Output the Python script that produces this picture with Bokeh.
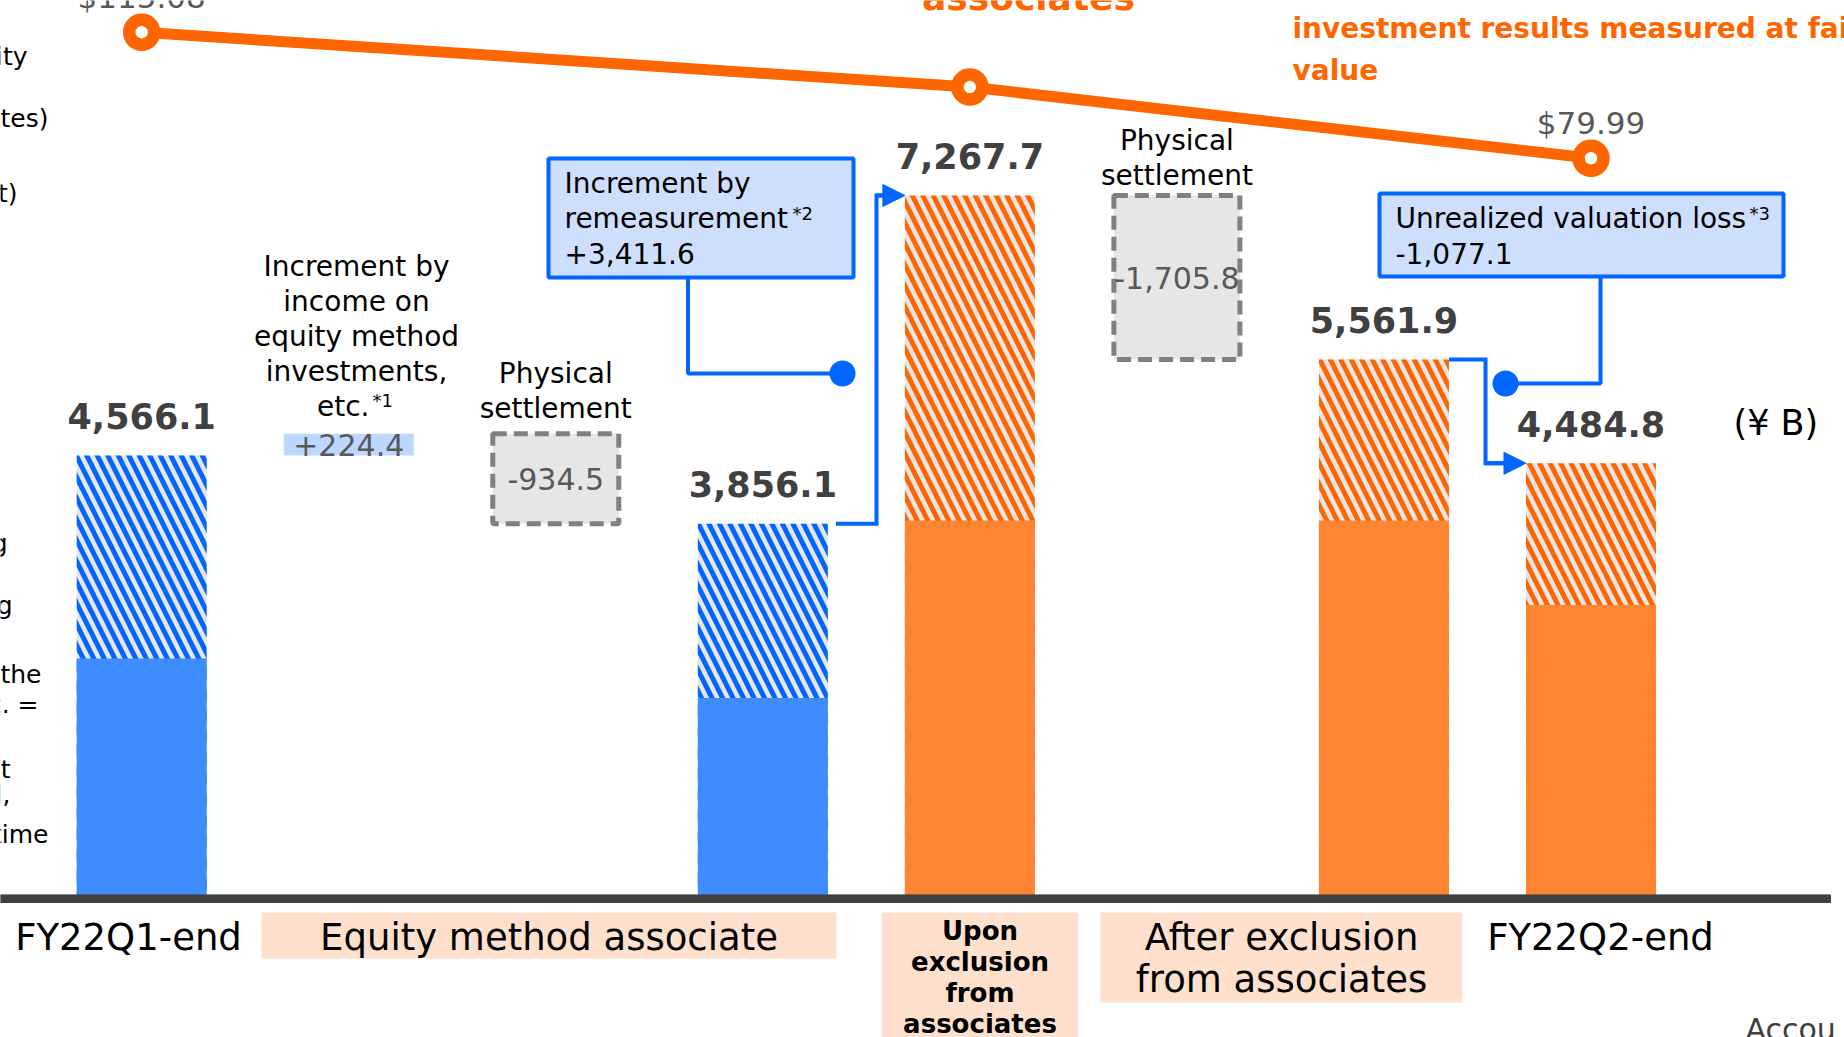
from bokeh.plotting import figure
from bokeh.models import Range1d, ColumnDataSource, Arrow, NormalHead
from bokeh.core.properties import value
from bokeh.embed import file_html
from bokeh.resources import INLINE

# ---------------- data ----------------
total_slots = [0, 3, 4, 6, 7]
total_values = [4566.1, 3856.1, 7267.7, 5561.9, 4484.8]
solid_values = [2456.0, 2047.0, 3890.0, 3890.0, 3012.0]
total_group = ["associate", "associate", "fair", "fair", "fair"]

step_slots = [1, 2, 5]
step_values = [224.4, -934.5, -1705.8]
step_start_from = [0, None, 4]   # slot whose level the step starts from (None = continue)

remeasurement_value = 3411.6
unrealized_loss_value = -1077.1

price_slots = [0, 4, 7]
price_values = [115.08, 99.8, 79.99]
price_labels = ["$115.08", "", "$79.99"]

category_labels = ["FY22Q1-end", "Equity method associate",
                   "Upon\nexclusion\nfrom\nassociates",
                   "After exclusion\nfrom associates", "FY22Q2-end"]

# ---------------- geometry helpers (page px -> data) ----------------
W, H = 1844, 1037
SLOT_PX = 207.04
X0_PX = 141.2
BASE_PX = 894.4
UNIT_PX = 0.09624          # px per ¥B
PRICE_PX = 3.591           # px per $
PRICE_REF_PX = 31.7        # page y of first price point
MID = 0.36                 # cap-centre above baseline, in em


def X(px):
    return (px - X0_PX) / SLOT_PX


def Y(py):
    return (BASE_PX - py) / UNIT_PX


def P(py):
    return price_values[0] + (PRICE_REF_PX - py) / PRICE_PX


PXU = 1 / UNIT_PX
BW = 130 / SLOT_PX

BLUE_SOLID = "#3f8cff"
BLUE_HATCH = "#0066ff"
ORANGE_SOLID = "#ff8533"
ORANGE_HATCH = "#ff6600"
HATCH_BG = "#e6e6e6"
LINE_BLUE = "#0066ff"
DARK = "#404040"
GRAY = "#595959"
PEACH = "#fee0cd"
FONT = value("DejaVu Sans")

p = figure(width=W, height=H, output_backend="svg", toolbar_location=None,
           x_range=Range1d(X(0), X(W)), y_range=Range1d(Y(H), Y(0)),
           min_border=0, x_axis_location=None, y_axis_location=None,
           outline_line_color=None, background_fill_color="white")
p.grid.visible = False
p.extra_y_ranges = {"price": Range1d(P(H), P(0))}


def txt(xpx, base_py, t, size, color="black", align="left", bold=False):
    p.text(x=[X(xpx)], y=[Y(base_py - MID * size)], text=[t], text_font=FONT,
           text_font_size=value(f"{size}px"), text_color=color, text_align=align,
           text_baseline="middle", text_font_style="bold" if bold else "normal")


# ---------------- bars ----------------
src = ColumnDataSource(dict(
    x=total_slots, top=total_values, solid=solid_values,
    hatch=[BLUE_HATCH if g == "associate" else ORANGE_HATCH for g in total_group],
    fill=[BLUE_SOLID if g == "associate" else ORANGE_SOLID for g in total_group],
    label=[f"{v:,.1f}" for v in total_values],
    label_y=[v + (27 + MID * 35) * PXU for v in total_values],
))
p.vbar(x="x", top="top", bottom=0, width=BW, source=src, fill_color=HATCH_BG,
       hatch_pattern="\\", hatch_color="hatch", hatch_weight=5, hatch_scale=21,
       line_color=None)
p.vbar(x="x", top="solid", bottom=0, width=BW, source=src, fill_color="fill",
       line_color=None)
p.text(x="x", y="label_y", text="label", source=src, text_font=FONT,
       text_font_size=value("35px"), text_font_style="bold", text_color=DARK,
       text_align="center", text_baseline="middle")

# ---------------- waterfall steps ----------------
level = total_values[0]
pos_q, neg_q = [], []
for s, v, start in zip(step_slots, step_values, step_start_from):
    if start is not None:
        level = total_values[total_slots.index(start)]
    lo, hi = sorted([level, level + v])
    rec = dict(x=s, lo=lo, hi=hi, mid=(lo + hi) / 2,
               label=(f"+{v:,.1f}" if v > 0 else f"{v:,.1f}"))
    (pos_q if v > 0 else neg_q).append(rec)
    level += v


def cols(recs):
    return {k: [r[k] for r in recs] for k in recs[0]}


pq = ColumnDataSource(cols(pos_q))
nq = ColumnDataSource(cols(neg_q))
p.vbar(x="x", top="hi", bottom="lo", width=BW, source=pq, fill_color="#bdd7ff", line_color=None)
p.text(x="x", y="mid", text="label", source=pq, text_font=FONT, text_font_size=value("30px"),
       text_color=GRAY, text_align="center", text_baseline="middle")
p.vbar(x="x", top="hi", bottom="lo", width=BW - 4 / SLOT_PX, source=nq, fill_color=HATCH_BG,
       line_color="#808080", line_width=5, line_dash="14 7")
p.text(x="x", y="mid", text="label", source=nq, text_font=FONT, text_font_size=value("30px"),
       text_color=GRAY, text_align="center", text_baseline="middle")

# baseline (axis line)
p.quad(left=[X(0)], right=[X(1830)], top=[0], bottom=[Y(902)], color=DARK)

# ---------------- price line ----------------
p.line(x=price_slots, y=price_values, y_range_name="price", line_color=ORANGE_HATCH,
       line_width=11)
p.scatter(x=price_slots, y=price_values, y_range_name="price", marker="circle", size=25,
          fill_color="white", line_color=ORANGE_HATCH, line_width=12.5)
p.text(x=price_slots, y=[v + (24 + MID * 31) / PRICE_PX for v in price_values],
       text=price_labels, y_range_name="price", text_font=FONT,
       text_font_size=value("31px"), text_color=GRAY, text_align="center",
       text_baseline="middle")

# ---------------- arrows between bars ----------------
def elbow_arrow(i_from, i_to, elbow_px, gap_px):
    x_a = total_slots[i_from] + BW / 2 + gap_px / SLOT_PX
    y_a = total_values[i_from]
    x_e = X(elbow_px)
    y_b = total_values[i_to]
    x_b = total_slots[i_to] - BW / 2
    p.line(x=[x_a, x_e, x_e, x_b - 12 / SLOT_PX], y=[y_a, y_a, y_b, y_b],
           line_color=LINE_BLUE, line_width=4, line_join="miter")
    p.add_layout(Arrow(end=NormalHead(size=22, fill_color=LINE_BLUE, line_color=LINE_BLUE),
                       x_start=x_e, y_start=y_b, x_end=x_b, y_end=y_b,
                       line_color=LINE_BLUE, line_width=4))


elbow_arrow(1, 2, 876, 8)
elbow_arrow(3, 4, 1485, 0)

# ---------------- callout boxes ----------------
def callout(l, r, t, b, lines, sup, sup_x, sup_y, conn_x, dot_x, dot_y):
    p.quad(left=[X(l)], right=[X(r)], top=[Y(t)], bottom=[Y(b)], fill_color="#cddffd",
           line_color=LINE_BLUE, line_width=4)
    p.line(x=[X(conn_x), X(conn_x), X(dot_x)], y=[Y(b), Y(dot_y), Y(dot_y)],
           line_color=LINE_BLUE, line_width=4)
    p.scatter(x=[X(dot_x)], y=[Y(dot_y)], size=26, marker="circle", fill_color=LINE_BLUE,
              line_color=None)
    for k, ln in enumerate(lines):
        txt(l + 16, t + 35 + 35 * k, ln, 28)
    txt(sup_x, sup_y, sup, 18)


callout(548, 853, 158, 277,
        ["Increment by", "remeasurement", f"+{remeasurement_value:,.1f}"],
        "*2", 792, 219, 687.5, 842, 373)
callout(1379, 1783, 193, 276,
        ["Unrealized valuation loss", f"{unrealized_loss_value:,.1f}"],
        "*3", 1749, 219, 1600, 1505, 383)

# ---------------- step captions ----------------
for k, ln in enumerate(["Increment by", "income on", "equity method", "investments,"]):
    txt(356, 276 + 35 * k, ln, 28, align="center")
txt(369, 416, "etc.", 28, align="right")
txt(372, 406, "*1", 18)
for s, yb in ((2, 383), (5, 150)):
    xs = X0_PX + s * SLOT_PX
    txt(xs, yb, "Physical", 28, align="center")
    txt(xs, yb + 35, "settlement", 28, align="center")

txt(1733, 435, "(¥ B)", 35)

# ---------------- category labels ----------------
p.quad(left=[X(261), X(881), X(1100)], right=[X(836), X(1078), X(1462)],
       top=[Y(912)] * 3, bottom=[Y(958), Y(1045), Y(1002)], fill_color=PEACH, line_color=None)
txt(128, 950, category_labels[0], 37, align="center")
txt(548.5, 950, category_labels[1], 37, align="center")
for k, ln in enumerate(category_labels[2].split("\n")):
    txt(979.5, 940 + 31 * k, ln, 26, align="center", bold=True)
for k, ln in enumerate(category_labels[3].split("\n")):
    txt(1281, 950 + 42 * k, ln, 37, align="center")
txt(1600, 950, category_labels[4], 37, align="center")
txt(1745, 1040, "Accou", 30, color=DARK)

# ---------------- titles (orange) ----------------
txt(1028, 10, "associates", 36, color=ORANGE_HATCH, align="center", bold=True)
txt(1292, 38, "investment results measured at fair", 28, color=ORANGE_HATCH, bold=True)
txt(1292, 80, "value", 28, color=ORANGE_HATCH, bold=True)

# ---------------- cut-off legend fragments on the left ----------------
frags = [("ity", 27, 65), ("tes)", 48, 127), ("t)", 17, 202), ("g", 7, 552), ("g", 12, 614),
         ("the", 41, 683), ("c. =", 38, 713), ("t", 10, 778), ("l,", 10, 803), ("time", 48, 843)]
for t, xr, yb in frags:
    txt(xr, yb, t, 25, align="right")

open("out.html", "w").write(file_html(p, INLINE))
